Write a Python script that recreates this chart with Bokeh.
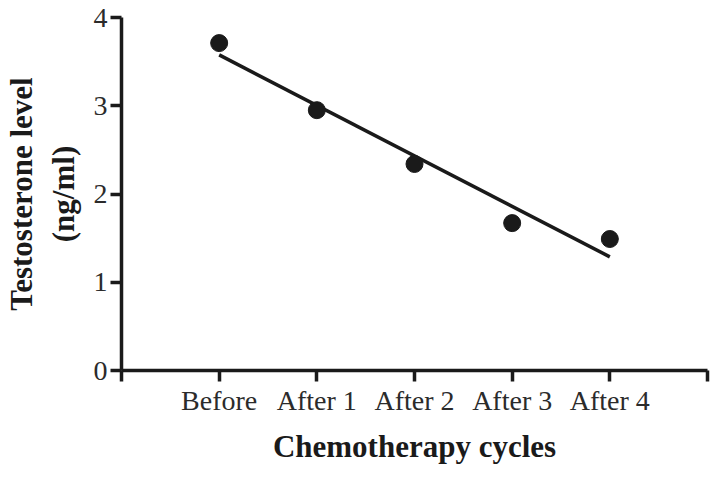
import numpy as np
from bokeh.plotting import figure
from bokeh.models import Range1d, FixedTicker
from bokeh.embed import file_html
from bokeh.resources import INLINE

categories = ["Before", "After 1", "After 2", "After 3", "After 4"]
testosterone = [3.71, 2.95, 2.34, 1.67, 1.49]
y_ticks = [0, 1, 2, 3, 4]
x_title = "Chemotherapy cycles"
y_title = "Testosterone level\n(ng/ml)"

xs = list(range(1, len(categories) + 1))
slope, intercept = np.polyfit(xs, testosterone, 1)
fit_x = [xs[0], xs[-1]]
fit_y = [slope * x + intercept for x in fit_x]

FONT = "Liberation Serif"
INK = "#1a1a1a"

p = figure(width=710, height=466, output_backend="svg", toolbar_location=None,
           x_range=Range1d(0, len(categories) + 1), y_range=Range1d(0, 4),
           min_border_left=0, min_border_right=3, min_border_top=17, min_border_bottom=0)
p.outline_line_color = None
p.xgrid.visible = False
p.ygrid.visible = False
p.background_fill_color = "white"
p.border_fill_color = "white"

p.line(fit_x, fit_y, line_color=INK, line_width=3.5)
p.scatter(xs, testosterone, size=17, fill_color=INK, line_color=INK)

xa = p.xaxis[0]
xa.ticker = FixedTicker(ticks=list(range(0, len(categories) + 2)))
overrides = {0: "", len(categories) + 1: ""}
for i, c in enumerate(categories):
    overrides[i + 1] = c
xa.major_label_overrides = overrides
xa.axis_label = x_title

ya = p.yaxis[0]
ya.ticker = FixedTicker(ticks=y_ticks)
ya.axis_label = y_title

for ax in (xa, ya):
    ax.axis_line_color = INK
    ax.axis_line_width = 3.5
    ax.major_tick_line_color = INK
    ax.major_tick_line_width = 3.5
    ax.major_tick_in = 0
    ax.major_tick_out = 11
    ax.minor_tick_line_color = None
    ax.major_label_text_font = FONT
    ax.major_label_text_font_size = "28px"
    ax.major_label_text_color = "#2b2b2b"
    ax.axis_label_text_font = FONT
    ax.axis_label_text_font_style = "bold"
    ax.axis_label_text_font_size = "31px"
    ax.axis_label_text_color = INK

xa.major_label_standoff = 3
xa.axis_label_standoff = 10
ya.major_label_standoff = 3
ya.axis_label_standoff = 10

open("out.html", "w").write(file_html(p, INLINE))
